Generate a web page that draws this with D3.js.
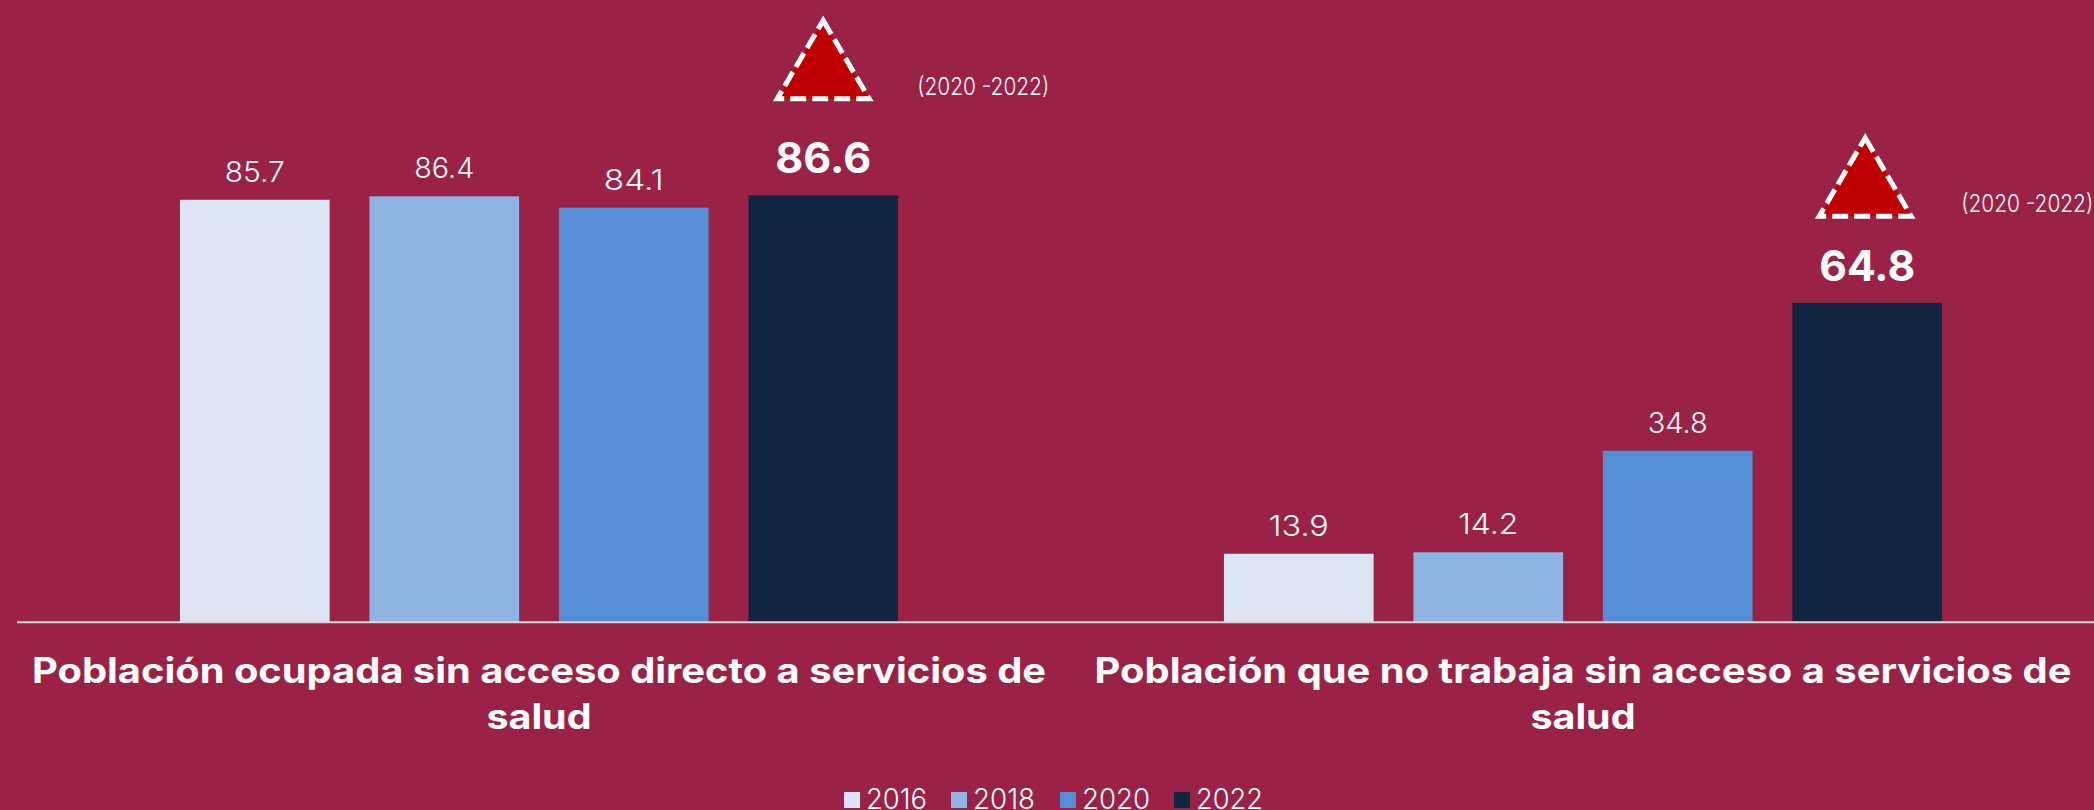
<!DOCTYPE html>
<html><head><meta charset="utf-8">
<script src="https://cdn.jsdelivr.net/npm/d3@7/dist/d3.min.js"></script>
<style>html,body{margin:0;padding:0;background:#9B2247;overflow:hidden}svg{display:block}text{font-family:Inter,"Open Sans",sans-serif;fill:#fff}</style>
</head><body><svg id="c" width="2094" height="810"></svg>
<script>
const categoryLines = [["Población ocupada sin acceso directo a servicios de","salud"],["Población que no trabaja sin acceso a servicios de","salud"]];
const years = ["2016","2018","2020","2022"];
const groupA = [85.7,86.4,84.1,86.6];
const groupB = [13.9,14.2,34.8,64.8];
const seriesByGroup = [groupA, groupB];
const colors = ["#DCE6F2","#8EB4E3","#558ED5","#10253F"];
const changeLabel = "(2020 -2022)";

const svg = d3.select("#c");
const baseY = 622.3;
const markerLift = [0,10];
const markerShift = [0,-2];
const x0 = d3.scaleBand().domain([0,1]).range([17,2105]);
const x1 = d3.scaleBand().domain(years).range([0,x0.bandwidth()]).paddingInner(0.21).paddingOuter(0.86);
const y = d3.scaleLinear().domain([0,100]).range([baseY,baseY-493]);

seriesByGroup.forEach((vals,g)=>{
  const gr = svg.append("g").attr("transform",`translate(${x0(g)},0)`);
  gr.selectAll("rect").data(vals).join("rect")
    .attr("x",(d,i)=>x1(years[i])).attr("width",x1.bandwidth())
    .attr("y",d=>y(d)).attr("height",d=>y(0)-y(d))
    .attr("fill",(d,i)=>colors[i]);
  gr.selectAll("text.v").data(vals).join("text").attr("class","v")
    .attr("x",(d,i)=>x1(years[i])+x1.bandwidth()/2)
    .attr("y",(d,i)=>y(d)-(i===3?22:18))
    .attr("text-anchor","middle")
    .attr("font-size",(d,i)=>i===3?42:28)
    .attr("font-weight",(d,i)=>i===3?700:300)
    .attr("textLength",(d,i)=>i===3?96:60)
    .attr("lengthAdjust","spacingAndGlyphs")
    .text(d=>d.toFixed(1));
  const last = vals[3];
  const cx = x1("2022")+x1.bandwidth()/2+markerShift[g];
  const top = y(last)-175+markerLift[g], bot = y(last)-96.5+markerLift[g];
  const half = 46;
  gr.append("path")
    .attr("d",`M${cx},${top}L${cx+half},${bot}L${cx-half},${bot}Z`)
    .attr("fill","#C00000").attr("stroke","#fff").attr("stroke-width",5)
    .attr("stroke-dasharray","16 6");
  gr.append("text").attr("x",x1("2022")+x1.bandwidth()/2+94).attr("y",y(last)-100.5+markerLift[g]).attr("font-size",24).attr("font-weight",300)
    .attr("textLength",132).attr("lengthAdjust","spacingAndGlyphs").text(changeLabel);
  categoryLines[g].forEach((t,k)=>{
    const tw = g===0?1014:977;
    const e = gr.append("text").attr("x",x0.bandwidth()/2).attr("y",683+k*45.5)
      .attr("text-anchor","middle").attr("font-size",35).attr("font-weight",700).text(t);
    const L = k===0?tw:105;
    e.attr("textLength",L).attr("lengthAdjust","spacingAndGlyphs");
  });
});
svg.append("line").attr("x1",17).attr("x2",2094).attr("y1",baseY).attr("y2",baseY).attr("stroke","#D9D9D9").attr("stroke-width",2);

const legendX = [844,951,1060,1174];
const legendW = [61,62,68,67];
const lg = svg.append("g").selectAll("g").data(years).join("g").attr("transform",(d,i)=>`translate(${legendX[i]},792)`);
lg.append("rect").attr("width",16).attr("height",16).attr("fill",(d,i)=>colors[i]);
lg.append("text").attr("x",22).attr("y",16.5).attr("font-size",29).attr("font-weight",300)
  .attr("textLength",(d,i)=>legendW[i]).attr("lengthAdjust","spacingAndGlyphs").text(d=>d);
</script></body></html>
